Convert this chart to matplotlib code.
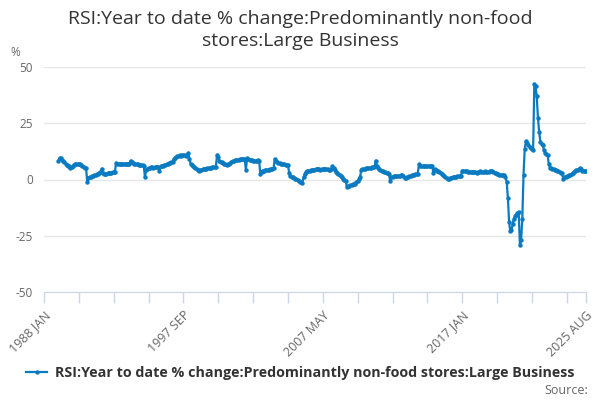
import numpy as np
from matplotlib import pyplot as plt

# monthly year-to-date % change, 1989 JAN .. 2025 AUG
vals_1989_1999 = [
    8.4, 9.6, 9.4, 8.8, 8.2, 7.6, 7.0, 6.6, 6.2, 5.8, 5.2, 5.6,      # 1989
    6.2, 6.6, 6.8, 6.9, 6.8, 6.7, 6.8, 6.6, 6.0, 5.6, 5.3, 5.0,      # 1990
    -1.2, 0.8, 1.0, 1.2, 1.4, 1.6, 1.8, 2.0, 2.4, 2.6, 2.9, 3.2,     # 1991
    4.8, 3.0, 2.6, 2.4, 2.6, 2.8, 3.0, 3.0, 3.1, 3.2, 3.3, 3.5,      # 1992
    7.4, 7.0, 6.8, 6.9, 7.0, 7.0, 6.9, 7.0, 7.1, 7.0, 6.9, 7.0,      # 1993
    8.4, 7.6, 7.2, 7.0, 7.0, 6.9, 6.8, 6.6, 6.5, 6.4, 6.3, 6.2,      # 1994
    1.0, 4.4, 4.6, 5.0, 5.2, 5.4, 5.5, 5.2, 5.4, 5.5, 5.6, 5.6,      # 1995
    3.8, 5.8, 6.0, 6.2, 6.3, 6.5, 6.8, 7.0, 7.2, 7.5, 7.7, 8.0,      # 1996
    9.0, 9.5, 10.0, 10.4, 10.6, 10.7, 10.6, 10.8, 10.7, 10.9, 10.6, 10.8,  # 1997
    11.9, 9.2, 7.0, 6.6, 6.0, 5.5, 5.0, 4.6, 4.2, 4.0, 4.1, 4.3,     # 1998
    4.5, 4.6, 4.7, 4.8, 5.0, 5.1, 5.2, 5.3, 5.4, 5.4, 5.5, 5.6,      # 1999
]
vals_2000_2009 = [
    11.0, 9.8, 8.4, 8.0, 7.6, 7.2, 6.9, 6.7, 6.6, 6.8, 7.0, 7.2,     # 2000
    8.0, 8.2, 8.4, 8.5, 8.6, 8.7, 8.8, 8.9, 9.0, 9.1, 9.2, 9.0,      # 2001
    4.4, 9.5, 9.0, 8.8, 8.6, 8.5, 8.4, 8.4, 8.3, 8.4, 8.5, 8.4,      # 2002
    2.5, 3.5, 4.0, 4.0, 4.1, 4.2, 4.3, 4.4, 4.5, 4.6, 4.7, 4.9,      # 2003
    9.2, 8.4, 7.8, 7.4, 7.2, 7.0, 6.9, 6.8, 6.7, 6.6, 6.5, 6.4,      # 2004
    2.8, 1.6, 1.2, 1.0, 0.7, 0.4, 0.1, -0.3, -0.6, -0.9, -1.2, -1.4, # 2005
    1.0, 2.6, 3.3, 3.8, 4.0, 4.0, 4.1, 4.2, 4.3, 4.4, 4.5, 4.6,      # 2006
    4.6, 4.5, 4.4, 4.5, 4.6, 4.7, 4.6, 4.5, 4.5, 4.4, 4.4, 4.5,      # 2007
    5.8, 5.0, 4.2, 3.5, 3.0, 2.4, 2.0, 1.6, 1.0, 0.4, -0.2, -0.6,    # 2008
    -3.4, -3.0, -2.8, -2.6, -2.4, -2.2, -2.0, -1.8, -1.2, -0.8, 0.2, 1.0,  # 2009
]
vals_2010_2019 = [
    4.4, 4.6, 4.7, 4.8, 4.9, 5.0, 5.1, 5.2, 5.3, 5.4, 5.5, 5.5,      # 2010
    8.4, 6.0, 5.0, 4.6, 4.2, 3.8, 3.6, 3.4, 3.2, 3.0, 2.7, 2.5,      # 2011
    -0.5, 1.0, 1.2, 1.4, 1.5, 1.5, 1.6, 1.6, 1.7, 1.8, 1.8, 1.7,     # 2012
    0.6, 0.8, 1.0, 1.2, 1.4, 1.6, 1.8, 2.0, 2.2, 2.4, 2.5, 2.6,      # 2013
    6.8, 6.2, 6.0, 5.9, 5.9, 5.8, 5.8, 5.9, 5.9, 5.8, 5.9, 5.8,      # 2014
    3.0, 4.6, 4.4, 4.0, 3.6, 3.3, 3.0, 2.6, 2.2, 1.6, 1.0, 0.6,      # 2015
    0.3, 0.4, 0.6, 0.8, 1.0, 1.1, 1.2, 1.3, 1.4, 1.5, 1.6, 1.7,      # 2016
    4.0, 3.8, 3.7, 3.6, 3.6, 3.5, 3.5, 3.4, 3.4, 3.3, 3.3, 3.4,      # 2017
    3.0, 3.4, 3.5, 3.6, 3.5, 3.4, 3.5, 3.6, 3.5, 3.4, 3.5, 3.6,      # 2018
    4.0, 3.8, 3.4, 3.0, 2.8, 2.6, 2.4, 2.2, 2.0, 1.9, 1.8, 1.9,      # 2019
]
vals_2020_2025 = [
    1.2, -1.0, -8.2, -18.9, -23.1, -22.6, -19.6, -17.4, -16.4, -15.6, -15.0, -14.4,  # 2020
    -29.3, -27.1, -17.4, 1.9, 13.5, 17.1, 16.2, 15.3, 14.5, 13.8, 13.4, 13.1,        # 2021
    42.4, 41.4, 36.9, 27.5, 21.3, 16.8, 15.8, 15.3, 13.1, 12.0, 11.2, 10.9,          # 2022
    7.1, 5.2, 4.9, 4.6, 4.5, 4.3, 4.1, 3.9, 3.7, 3.4, 3.1, 2.7,                      # 2023
    0.4, 1.0, 1.2, 1.4, 1.6, 1.9, 2.2, 2.6, 3.0, 3.4, 3.8, 4.2,                      # 2024
    4.4, 4.6, 4.9, 4.5, 3.9, 3.9, 4.0, 3.9,                                          # 2025
]

series_name = "RSI:Year to date % change:Predominantly non-food stores:Large Business"
tick_labels = ["1988 JAN", "1997 SEP", "2007 MAY", "2017 JAN", "2025 AUG"]
y_ticks = [-50, -25, 0, 25, 50]

values = np.array(vals_1989_1999 + vals_2000_2009 + vals_2010_2019 + vals_2020_2025)
# months counted from 1988 JAN; the series starts in 1989 JAN
months = np.arange(12, 12 + len(values))
last = months[-1]

plt.rcParams['font.family'] = ['Open Sans', 'DejaVu Sans']

fig = plt.figure(figsize=(6, 4), dpi=100)
ax = fig.add_axes([44/600, 1-292/400, 542/600, 225/400])

blue = '#0b7bc1'
ax.plot(months, values, color=blue, linewidth=1.6, marker='o', markersize=3.2,
        markeredgewidth=0, label=series_name)

ax.set_xlim(0, last)
ax.set_ylim(-50, 50)
ax.set_yticks(y_ticks)
ax.set_yticklabels([str(v) for v in y_ticks], color='#666666', fontsize=8.5)
ax.tick_params(axis='y', length=0, pad=8)
ax.grid(axis='y', color='#e6e6e6', linewidth=1)
ax.set_axisbelow(True)

# ticks every 29 months, labels on every fourth plus the last month
xt = list(range(0, last, 29)) + [last]
xl = [''] * len(xt)
for i in range(0, len(xt) - 1, 4):
    xl[i] = tick_labels[i // 4]
xl[-1] = tick_labels[-1]
ax.set_xticks(xt)
ax.set_xticklabels(xl, rotation=45, ha='right', va='top', rotation_mode='anchor',
                   color='#666666', fontsize=9)
ax.tick_params(axis='x', length=8, color='#ccd6eb', width=1, pad=4)

for s in ['top', 'right', 'left']:
    ax.spines[s].set_visible(False)
ax.spines['bottom'].set_color('#ccd6eb')

fig.text(0.5, 0.975, "RSI:Year to date % change:Predominantly non-food\nstores:Large Business",
         ha='center', va='top', fontsize=14, color='#333333', linespacing=1.3)
fig.text(10/600, 1-52/400, '%', fontsize=8.5, color='#666666', va='center')

leg = fig.legend(loc='center', bbox_to_anchor=(0.5, 1-373/400), frameon=False,
                 handlelength=1.5, handletextpad=0.5,
                 prop={'weight': 'bold', 'size': 10.3})
for t in leg.get_texts():
    t.set_color('#333333')
fig.text(588/600, 1-390/400, 'Source:', ha='right', va='center', fontsize=9, color='#666666')

fig.savefig('out.png', dpi=100)
